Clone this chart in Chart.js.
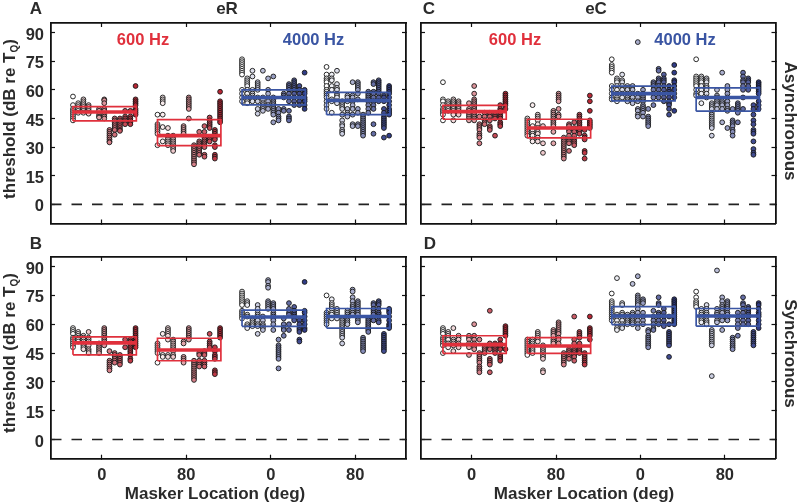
<!DOCTYPE html>
<html><head><meta charset="utf-8">
<script src="https://cdn.jsdelivr.net/npm/chart.js@4"></script>
<style>html,body{margin:0;padding:0;background:#fff}canvas{position:absolute}</style></head>
<body>
<script>
const groupLabels = ['0','80','0','80'];
const yTicks = [0,15,30,45,60,75,90];
// [q1, median, q3] for each group in each panel
const boxA = [[43.7,48.4,51.2],[30.8,36,44.4],[52.1,56,60],[47,54.4,58.7]];
const boxB = [[44.1,50.3,53.4],[41,46.6,52.7],[58.9,63.8,67.3],[58,64,68.2]];
const boxC = [[44.6,48.6,51.9],[34.8,40,44.6],[54.2,58,61.9],[48.8,56,61]];
const boxD = [[44.8,49.4,54],[44.8,48.7,53],[59.8,64.3,69.2],[59,64.3,68.2]];
// thresholds, one list per listener, for each panel / masker group
const A1=[[56.5,52,50,49,48,47,46,45,44],[53,52,51,50,49,48],[55,54,53,52,51,50,49,48],[52,51,50,49,48,47.5],[],[50,49,47,46,45.5],[55,54.5,53,50,49,47,46,45],[39,38,37,36,35,34,33,32.5],[45,44,43,42,41,40,39,36.5],[45,44,43,42,41,40,39,38.5],[49,46,45,44,43,42],[49,46,45,44,43,42],[62,55,54,53,52,50,49,48,47]];
const A2=[[47,42,41,40,39,38,37,31],[56,55,54,53,47,40.5,33],[40,36,35,34,33,32,31],[36,35,34,33,32,31,30,29,28],[],[41,40,39,38,37],[56,55,54,53,52,51,50,45],[31,30,29,28,27,26,25,24,23,22,21],[38,33,32,31,30,29,28,27,26],[41,38,35,34,33,32,31,30,26,25],[45.5,44,43,42,41,40,35,34,33],[39,38,37,36,35,34,31,30,26,25,24],[59,54,53,52,51,50,49,48,47,46,45,44,43]];
const A3=[[76,75,74,73,72,71,70,69,68,60,58,56,54],[66,65,64,63,62,60,58,56,55,54,53],[70,67,60,58,57,56,55,54],[64,63,62,61,60,56,54,50,47.5],[70,56,55,53,52,51,50,49],[66,60,58,54,52,50],[67,56,55,54,53,52,51,50,49,48,47,43],[50,48,46,45,44],[58,57,56,50,49],[63,62,61,60,58,56,54,49,46,45,44],[65,64,63,62,61,60,59,58,56,54,52],[62,60,58,56,54,52],[69,60,59,58,56,55,54,52,50]];
const A4=[[72,68,66,65,64,62,60,59,58,57,56,54,52,50],[68,66,65,62,60,55,54,48],[70,63,61,60,58,57,56,54,53],[54,53,52,51,50,47,44,42,41,39,38,37],[57,56,54,50,48,47,46],[64,57,56,54,52,50,47,42,41],[64,63,62,61,60,58,55,50,48,42,41],[47,46,45,44,43,42,41,40,39,38,37,36],[59,58,57,56,55,54,52,50,48],[64,63,59,58,56,54,52,50,42,37],[65,64,63,62,61,60,59,58,56,54],[57,56,54,50,48,46,45,44,43,42,41,40,35],[62,61,60,59,58,56,54,52,50,49,48,47,36]];
const C1=[[64,55,54,52,50,49,48,47,44],[54,53,52,51,50,49],[55,54,53,52,51,50,49,48,47,44],[54,53,52,51,50,49,48,47],[],[53,50,49,48,47,46,45,44],[62,58,55,54,53,52,51,50,49,48,47,46,45,44],[46,42,41,40,39,37,36,35,32],[48,46,44,43,42],[48,47,46,44,41,40,39],[36,47,46,45],[52,50,49,48,47,46,45,43,42,41],[58,57,56,55,54,53,52,50]];
const C2=[[45,44,43,42,41,40,39,38,37,36],[52,41,39,37,36,34,33],[47,46,45,44,42,40,38,37,35,33],[41,32,27],[],[49,48,47,46,45,44,43,42,41,38,32],[58,57,56,55,54,50,47,46],[35,34,33,32,31,30,29,28,27,26,25,24],[42,41,39,38,36,34,33,32,28],[43,40,39,38,36,34,33,32,31],[47,46,45,44,43,42,41,40,39,38,37],[39,36,35,34,28,27,24],[57,54,49,44,43,42,41,40]];
const C3=[[76,73,72,71,70,69,62,60,58,56,55],[66,65,64,62,60,58,56,55,54],[68,65,64,62,60,58,56],[62,61,60,58,56,55,54],[62,60,58,56,54,53],[85,58,56,54,50,49,47,46],[60,58,57,56,55,54,52,51,50,49,48,46],[50,46,45,44,43,42,41],[64,63,62,60,58,56,52],[71,70,66,65,64,62,60,58,56],[68,66,65,64,62,60,58,56,54],[62,60,59,58,56,54,53,52,50,47],[73,69,65,64,62,60,58,56,49]];
const C4=[[76,67,66,65,64,63,62,60,58,57],[67,66,65,64,62,60,58,53],[66,65,64,62,61,60,58,56],[53,52,51,50,48,47,46,45,44,43,42,41,40,36],[60,57,56,55,54,53,52,50],[69,54,53,52,50,43],[62,60,58,56,54,52,50,49,40],[50,44,43,42,41,39,38,36],[53,52,51,50,49,48,43],[69,67,65,64,62,60,56,50],[66,65,64,62,60],[52,50,47,44,42,39,38,37,33,29,27,26],[64,63,62,61,60,59,58,54,52,50]];
const B1=[[58,57,56,55,53,52,51,50,49,48],[56,55,54,53,52,51],[54,53,52,51,50,49,48,47],[56,53,52,51,50,49,47,46,45],[],[50,49,48,47,46,45],[58,57,56,55,54,53,52,51,50,49],[46,41,40,39,38,37,36],[45,44,43,42,41,40],[44,43,42,41,40,39],[48,52],[52,51,50,49,48,47,46,45,44,42,41],[58,57,56,55,54,53,52,51,50,49,48]];
const B2=[[50,49,48,47,46,45,40],[55,44,43],[58,57,56,55,54,52,44,43],[52,51,50,49,48,47,46,44,43],[],[51,50,43,42,41,40],[58,57,56,55,54,53,52],[41,40,39,38,37,36,35,34,33,32,31],[45,44,41,40,39,38],[46,45,44,41,40,39,38],[55,51,50,49,48],[48,46,44,43,42,36,35,34],[58,57,56,55,54,53]];
const B3=[[77,76,75,74,73,72,71,70,67,66,65,64,63],[72,71,70,65,64,60,59,58],[63,62,61,60,59],[70,68,66,65,64,62,60,59,55],[64,62,60,59,58,57],[83,82,80,79,72,71,70,69,68],[71,70,69,68,66,65,64,63,62,60,57],[52,49,48,47,46,45,44,43,42,37],[63,60,58,57,54],[71,68,66,65,60,57],[69,67,66,65,64,63,62],[62,60,58,57,56,52,51],[82,67,66,64,62,60,58,57]];
const B4=[[75,66,65,64,63,62,61,60],[73,71,70,69,68,66,65,63],[68,67,66,65,64,63],[63,62,61,60,59,58,57,56,55,54,53,50],[67,66,65,64,63,62,61,60],[78,77,74,72,70,69,68,66,65],[72,71,70,69,68,67,66,65,63,62,61],[53,52,51,50,49,48,47,46],[63,62,61,60,59,58,57,56],[71,70,68,67,66,65,63,62],[72,71,70,68,66,65,64,62,61],[55,54,53,52,51,50,49,48,47,46],[68,67,66,64,62,60,59,58]];
const D1=[[58,57,56,55,53,52,51,50,49,45],[56,55,54,53,52,50,49,48],[58,52,51,50,49,46],[54,53,52,50,49,48],[],[54,53,52,50,49,48,44],[60,54,52,50,49,48,47],[52,45,44,43,42,41,40,38,37,36,35],[48,47,46,45],[67,50,48,47,42,41,40,39,35],[50,49,48,47,46,45],[52,50,49,48,47,44,43,42,41],[59,58,57,56,55,54,47]];
const D2=[[52,51,50,49,48,47,46,45,44],[52,51,50,49,48,47,46,45],[56,55,54,53,52,51],[49,48,47,46,45,44,43,42,36,35],[],[57,56,55,54,52,51,50],[61,60,59,58,57,56,55,53,52,50],[45,44,43,42,41,40,39],[47,46,45,44,43,42],[64,52,50,47,46,45,44,43,41],[56,55,54,53,50,48,47,46,45],[45,44,43,42,41,40,39],[64,58,57,56,55,54,52]];
const D3=[[76,72,71,70,69,68,67,66,65,64,63,62],[84,65,64,62,60,58,57],[71,70,66,65,64,62,60,59,58],[65,64,63,62,61,60],[81,66,65,64,63,62,61,60],[85,75,74,73,72,71,70,68,66,64,62,60,58],[73,72,71,66,64,62,60],[57,56,54,53,52,51,50,49,48],[67,64,62,60,58,57],[74,71,70,66,65,64,62,60],[68,66,64,62,60,59],[64,60,56,55,54,53,52,51,50,49,43],[73,72,71,70,69,68,67,66,65,64,63,62,61,60]];
const D4=[[77,74,72,71,70,69],[68,66,65,64,63,62,61],[70,68,66,65,64,62,61,60],[57,56,55,54,53,52,51,50,49,33],[88,68,66,65,64,62,61],[74,72,70,69,68,67,66,64,63,62,57],[72,71,70,69,68,66,65,63,62],[53,52,51,50,49,48,47],[66,64,62,60,58,54],[74,71,70,68,66,64,62,60],[69,68,67,66,65,64,62,60],[56,55,54,53,52,51,50,49],[71,70,68,66,65,64,62,60,58]];

const RED='#e0303c', BLUE='#3a55a3', INK='#2b2b2b';
const FONT='"Liberation Sans", Arial, sans-serif';
const redDark=[185,38,52], blueDark=[48,60,135];
const boxLo=-0.34, boxHi=0.41, colStart=-0.34, colStep=0.0617;
const xMin=0.4, xMax=4.6, yMin=-10, yMax=95;

function shade(base,k){const t=k/12;return `rgb(${base.map(c=>Math.round(255+(c-255)*t)).join(',')})`;}
function groupDataset(cols,g){
  const base=g<2?redDark:blueDark, data=[], fills=[];
  cols.forEach((vals,k)=>vals.forEach(v=>{data.push({x:g+1+colStart+colStep*k,y:v});fills.push(shade(base,k));}));
  return {type:'scatter',data,order:2,pointRadius:2.4,pointHoverRadius:2.4,pointBackgroundColor:fills,pointBorderColor:'#151515',pointBorderWidth:0.9,showLine:false};
}
function boxDatasets(q,g){
  const c=g<2?RED:BLUE,x0=g+1+boxLo,x1=g+1+boxHi,[lo,med,hi]=q;
  return [
    {type:'scatter',showLine:true,order:1,pointRadius:0,borderColor:c,borderWidth:1.7,borderJoinStyle:'miter',data:[{x:x0,y:lo},{x:x1,y:lo},{x:x1,y:hi},{x:x0,y:hi},{x:x0,y:lo}]},
    {type:'scatter',showLine:true,order:0,pointRadius:0,borderColor:c,borderWidth:3.6,data:[{x:x0,y:med},{x:x1,y:med}]}
  ];
}
function axisCommon(){return {
  grid:{drawOnChartArea:false,drawTicks:true,tickLength:-4,tickWidth:1.2,tickColor:'#111',color:'#111'},
  border:{display:true,color:'#111',width:1.8}
};}
function textPlugin(rect,items,yTitle){return {id:'texts',afterDraw(chart){
  const ctx=chart.ctx;ctx.save();ctx.textBaseline='middle';
  items.forEach(t=>{
    ctx.save();ctx.translate(t.x-rect.x,t.y-rect.y);if(t.rot)ctx.rotate(t.rot);
    ctx.font=`bold ${t.size||17}px ${FONT}`;ctx.fillStyle=t.color||INK;ctx.textAlign='center';ctx.fillText(t.text,0,0);ctx.restore();
  });
  if(yTitle){
    ctx.save();ctx.translate(yTitle.x-rect.x,yTitle.y-rect.y);ctx.rotate(-Math.PI/2);
    ctx.fillStyle=INK;ctx.textAlign='left';
    const a='threshold (dB re T',b='Q',c=')',big=`bold 17px ${FONT}`,small=`bold 10px ${FONT}`;
    ctx.font=big;const wa=ctx.measureText(a).width,wc=ctx.measureText(c).width;
    ctx.font=small;const wb=ctx.measureText(b).width;
    let p=-(wa+wb+wc)/2;
    ctx.font=big;ctx.fillText(a,p,0);p+=wa;
    ctx.font=small;ctx.fillText(b,p,5);p+=wb;
    ctx.font=big;ctx.fillText(c,p,0);
    ctx.restore();
  }
  ctx.restore();
}};}
function panel(cfg){
  const r=cfg.rect,cv=document.createElement('canvas');
  cv.width=r.w;cv.height=r.h;cv.style.left=r.x+'px';cv.style.top=r.y+'px';cv.style.width=r.w+'px';cv.style.height=r.h+'px';
  document.body.appendChild(cv);
  const datasets=[{type:'scatter',showLine:true,order:3,pointRadius:0,borderColor:'#222',borderWidth:1.7,borderDash:[10.5,10],data:[{x:xMin,y:0},{x:xMax,y:0}]}];
  cfg.groups.forEach((cols,g)=>{datasets.push(groupDataset(cols,g));datasets.push(...boxDatasets(cfg.box[g],g));});
  const xT=s=>{s.ticks=groupLabels.map((_,i)=>({value:i+1}));};
  const yT=s=>{s.ticks=yTicks.map(v=>({value:v}));};
  const base={type:'linear',...axisCommon()};
  const noPadH=(s,h)=>{s.height=h;s.paddingLeft=0;s.paddingRight=0;};
  const noPadV=(s,w)=>{s.width=w;s.paddingTop=0;s.paddingBottom=0;};
  new Chart(cv,{
    type:'scatter',data:{datasets},
    plugins:[textPlugin(r,cfg.texts,cfg.yTitle)],
    options:{responsive:false,animation:false,devicePixelRatio:1,
      layout:{padding:0},
      plugins:{legend:{display:false},tooltip:{enabled:false},title:{display:false}},
      scales:{
        x:{...base,position:'bottom',min:xMin,max:xMax,afterBuildTicks:xT,afterFit:s=>noPadH(s,cfg.mB),
          ticks:{display:cfg.xLabels,autoSkip:false,maxRotation:0,padding:11,color:INK,font:{family:FONT,weight:'bold',size:16.5},callback:(v,i)=>groupLabels[i]}},
        xTop:{...base,axis:'x',position:'top',min:xMin,max:xMax,afterBuildTicks:xT,afterFit:s=>noPadH(s,cfg.mT),ticks:{display:false}},
        y:{...base,position:'left',min:yMin,max:yMax,afterBuildTicks:yT,afterFit:s=>noPadV(s,cfg.mL),
          // blank first line with a small line height sets the label slightly below its tick, as in the reference
          ticks:{display:cfg.yLabels,padding:11,color:INK,font:{family:FONT,weight:'bold',size:16.5,lineHeight:'5px'},callback:v=>['',String(v)]}},
        yRight:{...base,axis:'y',position:'right',min:yMin,max:yMax,afterBuildTicks:yT,afterFit:s=>noPadV(s,cfg.mR),ticks:{display:false}}
      }
    }
  });
}
const QUARTER=Math.PI/2;
panel({rect:{x:0,y:0,w:413,h:236},mL:51,mR:7,mT:23,mB:12.5,xLabels:false,yLabels:true,groups:[A1,A2,A3,A4],box:boxA,
  yTitle:{x:10,y:119},
  texts:[{text:'A',x:36,y:9},{text:'eR',x:227,y:9},{text:'600 Hz',x:143,y:40,color:RED,size:16.5},{text:'4000 Hz',x:313.5,y:40,color:BLUE,size:16.5}]});
panel({rect:{x:413,y:0,w:387,h:236},mL:8,mR:24.5,mT:23,mB:12.5,xLabels:false,yLabels:false,groups:[C1,C2,C3,C4],box:boxC,
  texts:[{text:'C',x:429,y:9},{text:'eC',x:596,y:9},{text:'600 Hz',x:515,y:40,color:RED,size:16.5},{text:'4000 Hz',x:685,y:40,color:BLUE,size:16.5},{text:'Asynchronous',x:790,y:121,rot:QUARTER}]});
panel({rect:{x:0,y:236,w:413,h:268},mL:51,mR:7,mT:21,mB:45.3,xLabels:true,yLabels:true,groups:[B1,B2,B3,B4],box:boxB,
  yTitle:{x:10,y:353},
  texts:[{text:'B',x:36,y:244},{text:'Masker Location (deg)',x:215,y:494}]});
panel({rect:{x:413,y:236,w:387,h:268},mL:8,mR:24.5,mT:21,mB:45.3,xLabels:true,yLabels:false,groups:[D1,D2,D3,D4],box:boxD,
  texts:[{text:'D',x:430,y:244},{text:'Masker Location (deg)',x:584,y:494},{text:'Synchronous',x:790,y:353.5,rot:QUARTER}]});
</script>
</body></html>
